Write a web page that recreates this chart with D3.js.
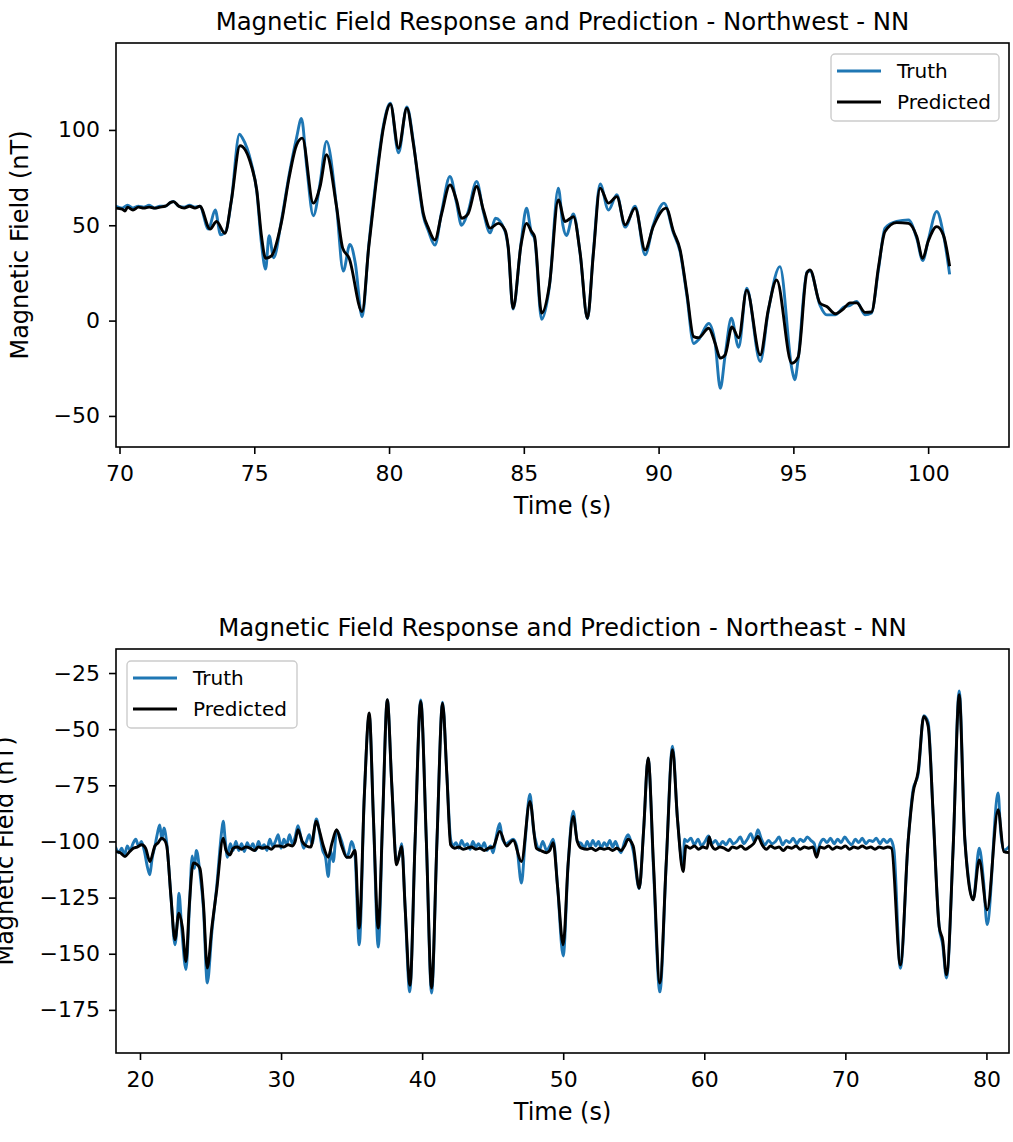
<!DOCTYPE html>
<html>
<head>
<meta charset="utf-8">
<script src="https://cdn.jsdelivr.net/npm/d3@7"></script>
<style>
  html, body { margin: 0; padding: 0; background: #fff; }
  svg { display: block; font-family: "DejaVu Sans", sans-serif; }
</style>
</head>
<body>
<svg id="chart" width="1013" height="1142"></svg>
<script>
// ---------------- DATA ----------------
// Northwest chart: [time (s), field (nT)]
const nwTruth = [
[69.87,60],[70.1,59],[70.3,60.5],[70.5,59],[70.7,60],[70.9,59.5],[71.1,60.5],[71.3,59],[71.5,60],[71.7,60],[71.9,62],[72.0,62.5],[72.2,60],[72.4,59.5],[72.6,60.5],[72.8,59.5],[72.98,60],
[73.3,48],[73.55,58],[73.75,45],[73.95,47],[74.15,63],[74.45,97.8],[74.55,96],[74.9,82],[75.09,68],[75.27,40],[75.42,27],[75.55,44.5],[75.72,33],
[76.0,52],[76.3,77],[76.57,96],[76.75,106],[76.95,80],[77.19,55],[77.44,72],[77.68,94],[78.05,60],[78.3,26],[78.55,40],[78.75,30],[79.0,2],
[79.25,40],[79.5,72],[79.8,103],[80.05,114],[80.35,88],[80.66,112],[80.9,94],[81.09,72],[81.27,55],[81.46,47],[81.7,39.6],[81.95,57],
[82.26,75.6],[82.5,62],[82.69,50],[82.93,57],[83.25,73],[83.5,57],[83.75,46],[83.95,53.7],[84.3,47],[84.42,38],[84.6,6],[84.9,41],
[85.1,59],[85.28,46],[85.4,43],[85.66,0.7],[85.95,18],[86.28,69.5],[86.45,50],[86.58,44.6],[86.84,56],[87.09,35],[87.36,1],[87.58,36],
[87.83,71.7],[88.14,58],[88.45,66],[88.76,49],[89.13,60],[89.5,34.5],[89.8,50],[90.2,61.6],[90.55,46],[90.8,36],[91.05,13],[91.3,-12],
[91.48,-10],[91.86,-1.5],[92.1,-12],[92.29,-35.5],[92.47,-18],[92.7,1.2],[92.97,-14],[93.27,17],[93.77,-21.5],[94.07,5],[94.5,28.3],
[94.94,-25],[95.05,-31],[95.18,-20],[95.5,25.5],[95.62,26],[95.99,8],[96.24,3],[96.55,3],[96.86,7],[97.1,8],[97.35,10],[97.66,3],[97.9,4],
[98.16,27],[98.4,48.5],[98.83,52],[99.27,52.8],[99.58,43],[99.8,31.5],[100.0,42],[100.32,57.2],[100.57,45],[100.79,25]
];
const nwPredicted = [
[69.87,59],[70.1,58.5],[70.2,57.5],[70.3,59.5],[70.5,58],[70.7,59.5],[70.9,59],[71.1,59.5],[71.3,59],[71.5,59.5],[71.7,60],[71.9,62],[72.0,62.4],[72.2,60],[72.4,59],[72.6,60],[72.8,59],[72.98,60],
[73.36,48],[73.6,52],[73.91,45.8],[74.15,63],[74.47,91.7],[74.9,80.8],[75.09,68.6],[75.27,44],[75.42,32.7],[75.64,34],[76.0,51],[76.3,75.6],
[76.57,92.2],[76.78,95.7],[77.19,61.6],[77.44,70.3],[77.68,87],[78.05,60],[78.28,38],[78.52,32.7],[79.0,4.7],[79.25,39],[79.5,70],[79.8,101.8],
[80.05,113.5],[80.35,90.4],[80.66,111.4],[80.9,93],[81.09,73.8],[81.27,56.3],[81.46,48.5],[81.7,42.3],[81.95,56],[82.26,71.2],[82.5,63.3],
[82.69,53.7],[82.93,56],[83.25,70.3],[83.5,58],[83.75,48.5],[84.05,51],[84.3,47.6],[84.42,38.8],[84.6,6.5],[84.9,40],[85.1,51],[85.28,46.8],
[85.4,44],[85.66,3.9],[85.95,18.7],[86.28,63.3],[86.53,52],[86.84,54.5],[87.09,35.4],[87.36,1.2],[87.58,35],[87.83,69.5],[88.14,61.6],
[88.45,65],[88.76,50.2],[89.13,59],[89.5,37.1],[89.8,49.2],[90.28,59],[90.55,46.8],[90.8,37],[91.05,14.4],[91.3,-8.4],[91.48,-9],[91.86,-4],
[92.1,-12],[92.29,-19.7],[92.47,-18],[92.72,-3.3],[92.97,-9],[93.27,16],[93.77,-18],[94.07,5.6],[94.38,21.3],[94.94,-22.4],[95.18,-19],
[95.5,24.9],[95.62,26.6],[95.99,9.1],[96.24,7.4],[96.55,3.6],[96.86,6.2],[97.1,9.3],[97.35,9.3],[97.66,4.3],[97.9,4.5],[98.16,28.3],
[98.4,46.7],[98.83,51.4],[99.27,51],[99.58,44],[99.8,32.7],[100.0,41.5],[100.32,49.3],[100.57,44.7],[100.79,29.2]
];
const nwXTicks = [70, 75, 80, 85, 90, 95, 100];
const nwYTicks = [-50, 0, 50, 100];
const nwXDomain = [69.87, 103.0];
const nwYDomain = [-66.3, 145.6];

// Northeast chart: [time (s), field (nT)]
const neTruth = [
[18.3,-103],[18.5,-105],[18.7,-103],[18.9,-106],[19.1,-102],[19.3,-104],[19.5,-101],[19.7,-99],[19.9,-102],[20.1,-100],[20.3,-104],[20.55,-112],
[20.7,-114.8],[20.85,-108],[21.06,-102],[21.25,-96],[21.4,-92.6],[21.55,-99],[21.7,-94],[21.9,-101],[22.2,-125],[22.48,-146],[22.65,-135],
[22.76,-123],[22.95,-138],[23.26,-157],[23.5,-130],[23.7,-106.4],[23.85,-112],[24.0,-104],[24.25,-114],[24.5,-130],[24.77,-163],[25.1,-140],
[25.44,-120],[25.8,-95],[25.9,-91],[26.05,-100],[26.2,-107],[26.4,-101],[26.6,-104],[26.8,-100],[27.0,-104],[27.2,-101],[27.4,-104.5],
[27.6,-100.5],[27.8,-103],[28.0,-101],[28.2,-104],[28.4,-100],[28.6,-103],[28.8,-101.5],[29.0,-104],[29.2,-99],[29.4,-102],[29.6,-100],
[29.8,-97],[30.0,-103],[30.2,-99],[30.4,-101.5],[30.6,-97],[30.8,-101],[31.0,-98],[31.2,-93],[31.4,-98],[31.6,-103],[31.8,-100],[32.0,-97],
[32.2,-101],[32.5,-90],[32.75,-97],[32.95,-104],[33.15,-107],[33.35,-115.6],[33.5,-104],[33.7,-109],[33.94,-95],[34.3,-100],[34.65,-107],
[34.8,-105],[35.0,-100],[35.24,-106],[35.54,-146],[35.9,-80],[36.25,-44],[36.55,-90],[36.89,-147],[37.2,-90],[37.53,-37],[37.85,-75],
[38.19,-109],[38.4,-106],[38.55,-101],[38.8,-130],[39.12,-167],[39.5,-100],[39.9,-37],[40.3,-100],[40.67,-167.5],[41.05,-100],[41.45,-38],
[41.75,-70],[42.02,-99],[42.2,-102],[42.4,-100.5],[42.6,-103],[42.8,-99.5],[43.0,-102],[43.2,-101],[43.4,-103.5],[43.6,-100],[43.8,-102.5],
[44.0,-101],[44.2,-103],[44.4,-100.5],[44.6,-104],[44.85,-102],[45.03,-105],[45.25,-98],[45.5,-92],[45.7,-99],[45.98,-101],[46.2,-100],
[46.45,-99],[46.7,-102],[47.04,-118.5],[47.3,-100],[47.64,-79],[47.9,-95],[48.1,-101],[48.3,-104],[48.55,-100],[48.82,-104],[49.05,-102],
[49.29,-99],[49.6,-120],[50.0,-151],[50.35,-110],[50.71,-86.5],[51.0,-100],[51.3,-101],[51.5,-103],[51.7,-100],[51.9,-102.5],[52.1,-99.5],
[52.3,-102],[52.5,-100],[52.7,-103],[52.9,-100.5],[53.1,-102],[53.3,-99.5],[53.5,-102.5],[53.7,-100],[53.9,-103],[54.1,-105],[54.35,-100],
[54.6,-97],[54.8,-100],[54.96,-104],[55.39,-121],[55.7,-95],[56.02,-63],[56.4,-112],[56.85,-167],[57.3,-110],[57.75,-57.6],[58.1,-90],
[58.5,-111],[58.6,-99],[58.8,-100],[59.05,-98.5],[59.3,-101.5],[59.55,-99],[59.8,-102],[60.05,-100],[60.3,-97.5],[60.55,-101],[60.8,-99.5],
[61.05,-102],[61.3,-100],[61.55,-101.5],[61.8,-99],[62.05,-101],[62.3,-100],[62.55,-98],[62.8,-101],[63.05,-99],[63.3,-96.5],[63.55,-100],
[63.8,-94.8],[64.05,-99],[64.3,-101.5],[64.55,-99.5],[64.8,-101],[65.05,-100],[65.3,-98],[65.55,-101.5],[65.8,-99.5],[66.05,-100.5],
[66.3,-98.5],[66.55,-101],[66.8,-99],[67.05,-100],[67.3,-98],[67.55,-99.5],[67.8,-101],[67.96,-106],[68.2,-101],[68.45,-99],[68.7,-100.5],
[68.95,-98.5],[69.2,-101],[69.45,-99],[69.7,-100.5],[69.95,-98],[70.2,-100],[70.45,-101.5],[70.7,-99],[70.95,-100.5],[71.2,-98.5],
[71.45,-101],[71.7,-99.5],[71.95,-100],[72.2,-98.5],[72.45,-101],[72.7,-99],[72.95,-100.5],[73.2,-99],[73.3,-100],[73.45,-104],
[73.9,-156.5],[74.45,-100],[74.8,-77],[75.16,-70],[75.56,-44],[75.87,-47],[76.22,-88],[76.65,-138],[76.9,-146],[77.17,-160.8],[77.64,-103],
[78.07,-33],[78.47,-99],[78.7,-115],[79.06,-126],[79.49,-103],[79.8,-118],[80.05,-137],[80.83,-78.4],[81.0,-95],[81.23,-104],[81.65,-102]
];
const nePredicted = [
[18.3,-104.5],[18.6,-105],[18.94,-106.7],[19.2,-105],[19.53,-103],[19.8,-102.5],[20.12,-101.5],[20.4,-103],[20.7,-108.9],[21.06,-102],
[21.3,-100.5],[21.53,-98.5],[21.75,-99.5],[21.9,-102],[22.2,-125],[22.48,-143.8],[22.76,-131.9],[23.0,-138],[23.26,-153.5],[23.5,-128],
[23.78,-109.6],[24.0,-110],[24.25,-112],[24.5,-128],[24.77,-156.4],[25.1,-138],[25.44,-121.5],[25.9,-98.5],[26.1,-104],[26.38,-106],
[26.6,-103],[26.9,-102.5],[27.2,-103.5],[27.5,-102.5],[27.8,-103],[28.1,-104],[28.4,-102.5],[28.7,-103],[29.0,-102.5],[29.3,-103.5],
[29.6,-102],[29.9,-102],[30.2,-102.5],[30.5,-101.5],[30.8,-102],[31.0,-100],[31.2,-94.8],[31.5,-100],[31.8,-102],[32.1,-102.5],[32.5,-91],
[32.75,-96],[33.0,-102],[33.35,-107],[33.6,-101],[33.94,-94.8],[34.3,-102],[34.65,-107],[34.9,-107],[35.24,-104],[35.54,-138.6],[35.9,-80],
[36.25,-42.8],[36.55,-90],[36.89,-138.6],[37.2,-90],[37.53,-36.9],[37.85,-75],[38.19,-110.4],[38.55,-102.2],[38.8,-130],[39.14,-164],
[39.5,-100],[39.9,-37.6],[40.3,-100],[40.67,-165.3],[41.05,-100],[41.45,-38.4],[41.75,-70],[42.02,-101.5],[42.3,-103],[42.6,-102.5],
[42.9,-103.5],[43.2,-103],[43.5,-102.5],[43.8,-103.5],[44.1,-103],[44.4,-104],[44.7,-103],[45.03,-102.5],[45.5,-95.5],[45.98,-102],
[46.45,-99.5],[47.04,-108.9],[47.64,-82.2],[48.1,-103],[48.4,-104],[48.82,-105],[49.05,-104],[49.29,-100.5],[49.6,-120],[50.0,-146],
[50.35,-110],[50.71,-88.9],[51.0,-100],[51.3,-103],[51.7,-103.5],[52.0,-103],[52.3,-104],[52.6,-103],[52.9,-103.5],[53.2,-103],[53.5,-104],
[53.8,-103],[54.1,-104],[54.35,-102],[54.6,-99],[54.96,-102],[55.39,-120.8],[55.7,-95],[56.02,-62.8],[56.4,-110],[56.85,-163],[57.3,-110],
[57.75,-59.1],[58.1,-90],[58.5,-113.4],[58.7,-102],[59.0,-103],[59.3,-102],[59.6,-103.5],[59.9,-102.5],[60.2,-103],[60.35,-98],[60.5,-101.5],
[60.8,-103.5],[61.1,-102.5],[61.4,-103],[61.7,-104],[62.0,-102.5],[62.3,-103],[62.6,-102],[62.9,-103.5],[63.2,-102.5],[63.5,-101],[63.8,-97.8],
[64.1,-101.5],[64.4,-103.5],[64.7,-102],[65.0,-103],[65.3,-102.5],[65.6,-104],[65.9,-102.5],[66.2,-103],[66.5,-102],[66.8,-103.5],[67.1,-102.5],
[67.4,-103],[67.7,-102.5],[67.96,-107],[68.2,-102.5],[68.5,-103],[68.8,-102],[69.1,-103.5],[69.4,-102.5],[69.7,-103],[70.0,-102],[70.3,-103.5],
[70.6,-102.5],[70.9,-103],[71.2,-102],[71.5,-103],[71.8,-102.5],[72.1,-103.5],[72.4,-102.5],[72.7,-103],[73.0,-102.5],[73.27,-103],
[73.9,-155],[74.45,-100],[74.8,-78.4],[75.16,-68.8],[75.56,-44.3],[75.87,-48.7],[76.22,-87.3],[76.65,-137.9],[76.9,-144],[77.17,-159.4],
[77.64,-103],[78.07,-34.6],[78.47,-99.3],[79.06,-126],[79.49,-108.2],[80.05,-130.4],[80.83,-85.9],[81.23,-104.5],[81.65,-105]
];
const neXTicks = [20, 30, 40, 50, 60, 70, 80];
const neYTicks = [-175, -150, -125, -100, -75, -50, -25];
const neXDomain = [18.3, 81.6];
const neYDomain = [-194.2, -14.3];

const seriesNames = ["Truth", "Predicted"];
const seriesColors = ["#1f77b4", "#000000"];

// ---------------- DRAW ----------------
const svg = d3.select("#chart");
const frameLeft = 116, frameRight = 1009;

function drawPanel(cfg) {
  const g = svg.append("g");
  const x = d3.scaleLinear().domain(cfg.xDomain).range([frameLeft, frameRight]);
  const y = d3.scaleLinear().domain(cfg.yDomain).range([cfg.bottom, cfg.top]);
  const clipId = "clip" + cfg.id;
  svg.append("clipPath").attr("id", clipId).append("rect")
    .attr("x", frameLeft).attr("y", cfg.top)
    .attr("width", frameRight - frameLeft).attr("height", cfg.bottom - cfg.top);

  const line = d3.line().curve(d3.curveMonotoneX).x(d => x(d[0])).y(d => y(d[1]));
  const lines = g.append("g").attr("clip-path", `url(#${clipId})`);
  [cfg.truth, cfg.pred].forEach((data, i) => {
    lines.append("path").datum(data)
      .attr("d", line)
      .attr("fill", "none")
      .attr("stroke", seriesColors[i])
      .attr("stroke-width", 2.9)
      .attr("stroke-linejoin", "round")
      .attr("stroke-linecap", "square");
  });

  // axes
  const xAxis = d3.axisBottom(x).tickValues(cfg.xTicks).tickSizeInner(7).tickSizeOuter(0).tickPadding(11)
    .tickFormat(d3.format("d"));
  const yAxis = d3.axisLeft(y).tickValues(cfg.yTicks).tickSizeInner(7).tickSizeOuter(0).tickPadding(9)
    .tickFormat(d3.format("d"));
  const gx = g.append("g").attr("transform", `translate(0,${cfg.bottom})`).call(xAxis);
  const gy = g.append("g").attr("transform", `translate(${frameLeft},0)`).call(yAxis);
  [gx, gy].forEach(a => {
    a.select(".domain").remove();
    a.selectAll(".tick line").attr("stroke", "#000").attr("stroke-width", 1.6);
    a.selectAll(".tick text").attr("fill", "#000").style("font-size", "22px")
      .style("font-family", "DejaVu Sans");
  });

  // frame
  g.append("rect").attr("x", frameLeft).attr("y", cfg.top)
    .attr("width", frameRight - frameLeft).attr("height", cfg.bottom - cfg.top)
    .attr("fill", "none").attr("stroke", "#000").attr("stroke-width", 1.6);

  // title
  g.append("text").attr("x", (frameLeft + frameRight) / 2).attr("y", cfg.top - 13)
    .attr("text-anchor", "middle").style("font-size", "24.4px").attr("fill", "#000")
    .text(cfg.title);
  // axis labels
  g.append("text").attr("x", (frameLeft + frameRight) / 2).attr("y", cfg.bottom + 67)
    .attr("text-anchor", "middle").style("font-size", "24px").attr("fill", "#000")
    .text("Time (s)");
  g.append("text")
    .attr("transform", `translate(${cfg.ylabelX},${(cfg.top + cfg.bottom) / 2}) rotate(-90)`)
    .attr("text-anchor", "middle").style("font-size", "24px").attr("fill", "#000")
    .text("Magnetic Field (nT)");

  // legend
  const lg = g.append("g").attr("transform", `translate(${cfg.legend.x},${cfg.legend.y})`);
  lg.append("rect").attr("x", 0).attr("y", 0).attr("width", cfg.legend.w).attr("height", 67)
    .attr("rx", 4).attr("fill", "#fff").attr("fill-opacity", 0.8)
    .attr("stroke", "#cccccc").attr("stroke-width", 1.4);
  seriesNames.forEach((name, i) => {
    const ry = 17 + i * 31;
    lg.append("line").attr("x1", 6).attr("x2", 50).attr("y1", ry).attr("y2", ry)
      .attr("stroke", seriesColors[i]).attr("stroke-width", 2.9);
    lg.append("text").attr("x", 66).attr("y", ry + 7).style("font-size", "20px")
      .attr("fill", "#000").text(name);
  });
}

drawPanel({
  id: "nw", top: 43, bottom: 447,
  xDomain: nwXDomain, yDomain: nwYDomain, xTicks: nwXTicks, yTicks: nwYTicks,
  truth: nwTruth, pred: nwPredicted,
  title: "Magnetic Field Response and Prediction - Northwest - NN",
  ylabelX: 28,
  legend: { x: 831, y: 54, w: 168 }
});
drawPanel({
  id: "ne", top: 649, bottom: 1053,
  xDomain: neXDomain, yDomain: neYDomain, xTicks: neXTicks, yTicks: neYTicks,
  truth: neTruth, pred: nePredicted,
  title: "Magnetic Field Response and Prediction - Northeast - NN",
  ylabelX: 13,
  legend: { x: 127, y: 661, w: 170 }
});
</script>
</body>
</html>
